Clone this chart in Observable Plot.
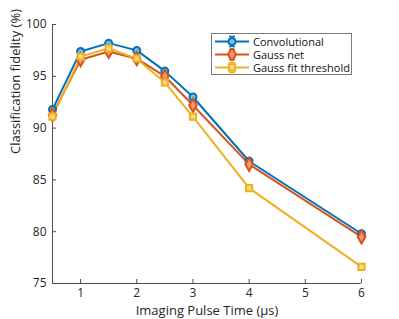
<!DOCTYPE html>
<html><head><meta charset="utf-8">
<script src="https://cdn.jsdelivr.net/npm/d3@7"></script>
<script src="https://cdn.jsdelivr.net/npm/@observablehq/plot@0.6"></script>
<style>
body{margin:0;background:#fff;}
#wrap{position:relative;width:399px;height:319px;font-family:"Open Sans",sans-serif;}
#legend{position:absolute;left:211px;top:33px;width:141px;height:42px;border:1px solid #7a7a7a;background:#fff;box-sizing:border-box;font-size:11px;line-height:13px;color:#111;padding-top:1px;}
#legend .row{display:flex;align-items:center;height:13px;line-height:13px;}
#legend svg{margin-left:2px;margin-right:3px;}
</style></head><body>
<div id="wrap"><div id="chart"></div><div id="legend"></div></div>
<script>
const times = [0.5, 1, 1.5, 2, 2.5, 3, 4, 6];
const convolutional = [91.8, 97.4, 98.2, 97.5, 95.5, 93.0, 86.8, 79.8];
const gaussNet = [91.3, 96.6, 97.4, 96.7, 95.0, 92.2, 86.5, 79.5];
const gaussFit = [91.1, 96.9, 97.7, 96.7, 94.4, 91.1, 84.2, 76.6];
const seriesNames = ["Convolutional", "Gauss net", "Gauss fit threshold"];
const colors = ["#0072BD", "#D95319", "#EDB120"];
const fills = ["#7fb8de", "#ec9a76", "#f6d889"];
const symbols = ["circle", "diamond", "square"];
const xTicks = [1, 2, 3, 4, 5, 6];
const yTicks = [75, 80, 85, 90, 95, 100];

const allSeries = [convolutional, gaussNet, gaussFit];
const data = allSeries.flatMap((vals, i) => vals.map((v, j) => ({t: times[j], v, s: seriesNames[i], i})));

const marks = [];
allSeries.forEach((vals, i) => {
  const d = data.filter(e => e.i === i);
  marks.push(Plot.line(d, {x: "t", y: "v", stroke: colors[i], strokeWidth: 2}));
});
allSeries.forEach((vals, i) => {
  const d = data.filter(e => e.i === i);
  marks.push(Plot.dot(d, {x: "t", y: "v", symbol: () => symbols[i], r: i === 1 ? 4 : 3.5, stroke: colors[i], fill: fills[i], strokeWidth: 2}));
});

const plot = Plot.plot({
  width: 399, height: 319,
  marginLeft: 52, marginRight: 38, marginTop: 24, marginBottom: 36,
  style: {fontFamily: "'Open Sans', sans-serif", fontSize: "12px", color: "#262626", background: "#fff"},
  x: {domain: [0.5, 6]},
  y: {domain: [75, 100]},
  marks: [
    Plot.ruleX([0.5], {stroke: "#4d4d4d"}),
    Plot.ruleY([75], {stroke: "#4d4d4d"}),
    Plot.axisX(xTicks, {tickSize: -4, tickPadding: 9, fontSize: 12, stroke: "#4d4d4d", fill: "#262626", label: null}),
    Plot.axisY(yTicks, {tickSize: -4, tickPadding: 10, fontSize: 12, stroke: "#4d4d4d", fill: "#262626", label: null}),
    Plot.text(["Imaging Pulse Time (μs)"], {frameAnchor: "bottom", dy: 31, fontSize: 13, fill: "#262626"}),
    Plot.text(["Classification fidelity (%)"], {frameAnchor: "left", dx: -37, rotate: -90, fontSize: 13, fill: "#262626"}),
    ...marks
  ]
});
document.getElementById("chart").appendChild(plot);

const legend = document.getElementById("legend");
seriesNames.forEach((name, i) => {
  const row = document.createElement("div");
  row.className = "row";
  const sym = d3.symbol(i === 0 ? d3.symbolCircle : i === 1 ? d3.symbolDiamond : d3.symbolSquare, i === 1 ? 55 : 40)();
  row.innerHTML = `<svg width="36" height="13"><line x1="1" x2="35" y1="6.5" y2="6.5" stroke="${colors[i]}" stroke-width="2"/>` +
    `<line x1="15" x2="21" y1="1.5" y2="1.5" stroke="${colors[i]}" stroke-width="1.5"/><line x1="15" x2="21" y1="11.5" y2="11.5" stroke="${colors[i]}" stroke-width="1.5"/>` +
    `<path transform="translate(18,6.5)" d="${sym}" fill="${fills[i]}" stroke="${colors[i]}" stroke-width="2"/></svg><span>${name}</span>`;
  legend.appendChild(row);
});
</script>
</body></html>
